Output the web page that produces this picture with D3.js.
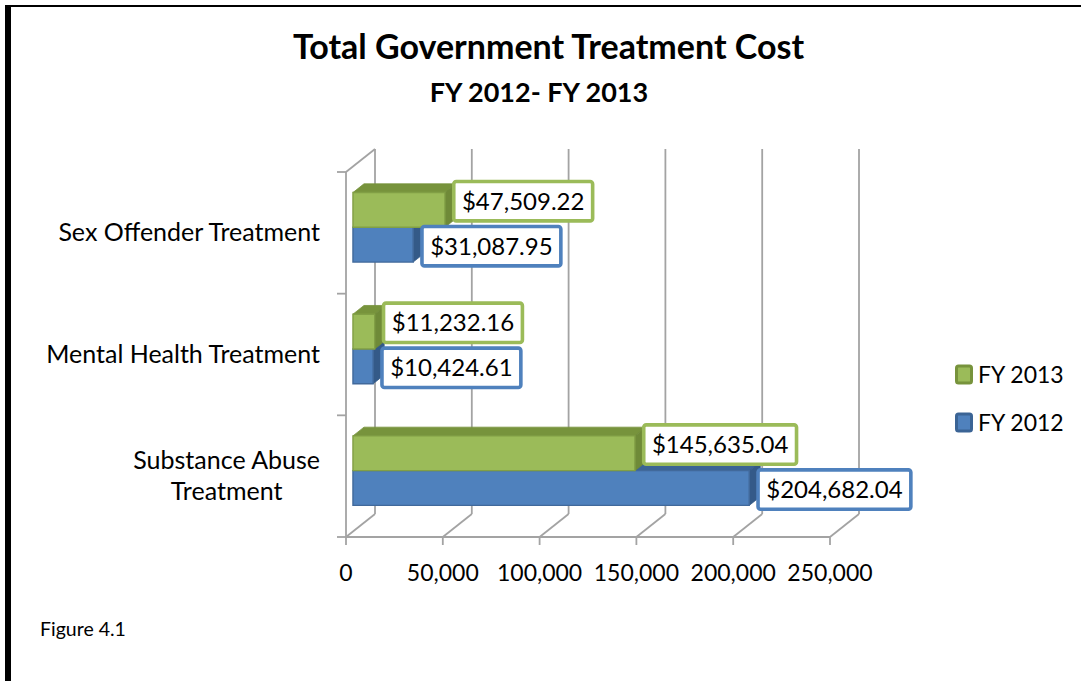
<!DOCTYPE html>
<html>
<head>
<meta charset="utf-8">
<script src="https://cdn.jsdelivr.net/npm/d3@7"></script>
<style>
  body { margin: 0; background: #fff; }
  svg { display: block; font-family: Lato, "Open Sans", sans-serif; }
</style>
</head>
<body>
<svg id="chart" width="1081" height="681"></svg>
<script>
// ---- data ----
const categories = ["Sex Offender Treatment", "Mental Health Treatment", "Substance Abuse Treatment"];
const categoryLines = [["Sex Offender Treatment"], ["Mental Health Treatment"], ["Substance Abuse", "Treatment"]];
const seriesNames = ["FY 2013", "FY 2012"];
const fy2013 = [47509.22, 11232.16, 145635.04];
const fy2012 = [31087.95, 10424.61, 204682.04];
const xTicks = [0, 50000, 100000, 150000, 200000, 250000];

// ---- styles ----
const palette = {
  "FY 2013": { front: "#9bbb59", top: "#77933c", side: "#6f8a38", edge: "#819f45", label: "#9bbb59" },
  "FY 2012": { front: "#4f81bd", top: "#3b6495", side: "#345a88", edge: "#41699b", label: "#4f81bd" }
};
const gridColor = "#a3a3a3";

const svg = d3.select("#chart");

// outer frame (top + left rules)
svg.append("rect").attr("x", 5).attr("y", 5).attr("width", 1076).attr("height", 2).attr("fill", "#000");
svg.append("rect").attr("x", 5).attr("y", 5).attr("width", 6).attr("height", 676).attr("fill", "#000");

// ---- scales & pseudo-3D projection ----
const x = d3.scaleLinear().domain([0, 250000]).range([346, 830]);
const y = d3.scaleBand().domain(categories).range([172, 537]).paddingInner(0).paddingOuter(0);
const ySub = d3.scaleBand().domain(seriesNames).range([0, y.bandwidth()]).paddingInner(0).paddingOuter(0.75);

const DX = 29, DY = 23;          // offset of the back wall
const d0 = 0.24, d1 = 0.62;      // bar depth (front / back)
const proj = (v, yy, d) => [x(v) + d * DX, yy - d * DY];
const yTop = y.range()[0], yBot = y.range()[1];

const grid = svg.append("g").attr("stroke", gridColor).attr("stroke-width", 1.8).attr("fill", "none");

// back-wall gridlines + floor diagonals + ticks
xTicks.forEach(t => {
  const [bx, byTop] = proj(t, yTop, 1);
  const [, byBot] = proj(t, yBot, 1);
  grid.append("line").attr("x1", bx).attr("x2", bx).attr("y1", byTop).attr("y2", byBot);
  grid.append("line").attr("x1", x(t)).attr("y1", yBot).attr("x2", bx).attr("y2", byBot);
  grid.append("line").attr("x1", x(t)).attr("x2", x(t)).attr("y1", yBot).attr("y2", yBot + 8);
});
// front floor edge and vertical axis
grid.append("line").attr("x1", x(0)).attr("x2", x(250000)).attr("y1", yBot).attr("y2", yBot);
grid.append("line").attr("x1", x(0)).attr("x2", x(0)).attr("y1", yTop).attr("y2", yBot);
// left wall top edge
{
  const [bx, by] = proj(0, yTop, 1);
  grid.append("line").attr("x1", x(0)).attr("y1", yTop).attr("x2", bx).attr("y2", by);
}
// category ticks on the vertical axis
const catEdges = categories.map(c => y(c)).concat([yBot]);
catEdges.forEach(e => {
  grid.append("line").attr("x1", x(0) - 9).attr("x2", x(0)).attr("y1", e).attr("y2", e);
});

// x tick labels
svg.append("g").selectAll("text").data(xTicks).join("text")
  .attr("x", d => x(d)).attr("y", 581)
  .attr("text-anchor", "middle").attr("font-size", 23).attr("fill", "#000")
  .text(d => d3.format(",")(d));

// category labels
categories.forEach((c, i) => {
  const lines = categoryLines[i];
  const cy = y(c) + y.bandwidth() / 2;
  const lh = 31;
  const g = svg.append("g");
  const texts = lines.map((ln, j) => g.append("text")
    .attr("y", cy + (j - (lines.length - 1) / 2) * lh + 8.5)
    .attr("font-size", 25).attr("fill", "#000").text(ln));
  const maxW = d3.max(texts, t => t.node().getComputedTextLength());
  texts.forEach(t => t.attr("x", 320 - maxW / 2).attr("text-anchor", "middle"));
});

// ---- bars ----
const valuesBySeries = { "FY 2013": fy2013, "FY 2012": fy2012 };
const bars = svg.append("g");
function drawBar(val, y0, y1, col) {
  const P = (v, yy, d) => proj(v, yy, d).join(",");
  const top = [P(0, y0, d0), P(val, y0, d0), P(val, y0, d1), P(0, y0, d1)];
  const side = [P(val, y0, d0), P(val, y0, d1), P(val, y1, d1), P(val, y1, d0)];
  const front = [P(0, y0, d0), P(val, y0, d0), P(val, y1, d0), P(0, y1, d0)];
  bars.append("polygon").attr("points", top.join(" ")).attr("fill", col.top).attr("stroke", col.top).attr("stroke-width", 0.8);
  bars.append("polygon").attr("points", side.join(" ")).attr("fill", col.side).attr("stroke", col.side).attr("stroke-width", 0.8);
  bars.append("polygon").attr("points", front.join(" ")).attr("fill", col.front).attr("stroke", col.edge).attr("stroke-width", 1.4);
}
categories.forEach((c, i) => {
  // lower series first so the upper bar sits over it
  ["FY 2012", "FY 2013"].forEach(s => {
    const y0 = y(c) + ySub(s), y1 = y0 + ySub.bandwidth();
    drawBar(valuesBySeries[s][i], y0, y1, palette[s]);
  });
});

// ---- data labels ----
const labels = svg.append("g");
const fmt = v => "$" + d3.format(",.2f")(v);
const boxH = 43, padX = 10, bw = 3.6;
function drawLabel(val, cy, left, col) {
  const g = labels.append("g");
  const rect = g.append("rect");
  const t = g.append("text").attr("font-size", 24).attr("fill", "#000").text(fmt(val));
  const tw = t.node().getComputedTextLength();
  const w = tw + 2 * padX;
  rect.attr("x", left + bw / 2).attr("y", cy - boxH / 2 + bw / 2)
    .attr("width", w - bw).attr("height", boxH - bw).attr("rx", 2.5)
    .attr("fill", "#fff").attr("stroke", col.label).attr("stroke-width", bw);
  t.attr("x", left + padX).attr("y", cy + 8.5);
  return cy + boxH / 2;
}
categories.forEach((c, i) => {
  const sTop = "FY 2013", sBot = "FY 2012";
  const yc = y(c) + ySub(sTop) + ySub.bandwidth() / 2;
  const [lx, ly] = proj(fy2013[i], yc, d1);
  const bottom = drawLabel(fy2013[i], ly, lx - 4, palette[sTop]);
  const yc2 = y(c) + ySub(sBot) + ySub.bandwidth() / 2;
  const [lx2, ly2] = proj(fy2012[i], yc2, d1);
  const cy2 = Math.max(ly2, bottom + 2 + boxH / 2);
  drawLabel(fy2012[i], cy2, lx2 - 4, palette[sBot]);
});

// ---- titles ----
svg.append("text").attr("x", 548.5).attr("y", 59).attr("text-anchor", "middle")
  .attr("font-size", 34).attr("font-weight", "bold").attr("fill", "#000")
  .text("Total Government Treatment Cost");
svg.append("text").attr("x", 539).attr("y", 102).attr("text-anchor", "middle")
  .attr("font-size", 27).attr("font-weight", "bold").attr("fill", "#000")
  .text("FY 2012- FY 2013");

// ---- legend ----
const legend = svg.append("g");
seriesNames.forEach((s, i) => {
  const ly = 375 + i * 48;
  legend.append("rect").attr("x", 956.5).attr("y", ly - 9).attr("width", 15).attr("height", 17).attr("rx", 2)
    .attr("fill", palette[s].front).attr("stroke", palette[s].top).attr("stroke-width", 3);
  legend.append("text").attr("x", 978).attr("y", ly + 8).attr("font-size", 23).attr("fill", "#000").text(s);
});

// figure caption
svg.append("text").attr("x", 40).attr("y", 636).attr("font-size", 19.5).attr("fill", "#000").text("Figure 4.1");
</script>
</body>
</html>
